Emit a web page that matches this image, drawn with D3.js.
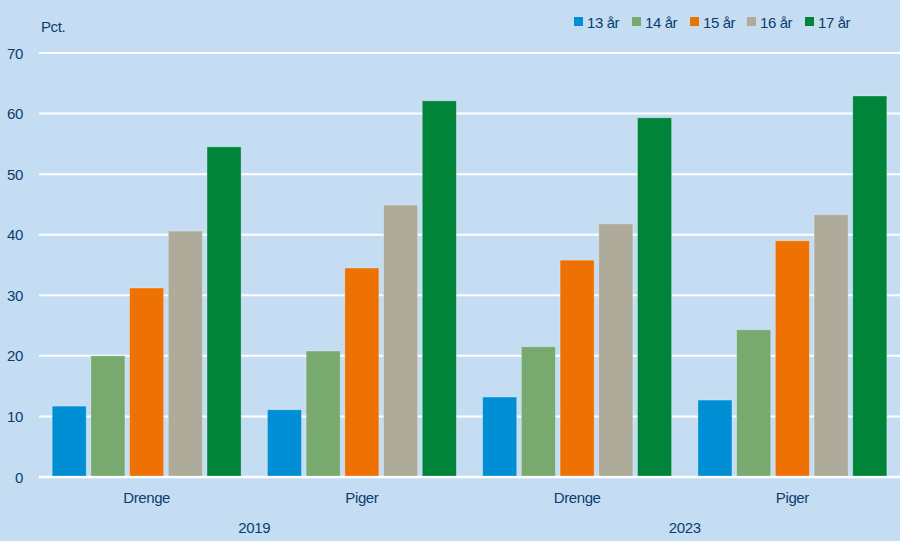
<!DOCTYPE html>
<html>
<head>
<meta charset="utf-8">
<script src="https://cdn.jsdelivr.net/npm/d3@7"></script>
<style>
  body { margin: 0; background: #c4ddf3; }
  svg text { font-family: "Liberation Sans", Arial, sans-serif; fill: #0a3d6e; letter-spacing: -0.4px; }
</style>
</head>
<body>
<svg id="chart" width="900" height="541"></svg>
<script>
// data
var years = ["2019", "2023"];
var genders = ["Drenge", "Piger"];
var ages = ["13 år", "14 år", "15 år", "16 år", "17 år"];
var colors = ["#008fd5", "#78aa6f", "#ee7203", "#aeab9b", "#00843a"];
var values = [
  [11.7, 20.0, 31.2, 40.6, 54.5],   // Drenge 2019
  [11.1, 20.8, 34.5, 44.9, 62.1],   // Piger 2019
  [13.2, 21.5, 35.8, 41.8, 59.3],   // Drenge 2023
  [12.7, 24.3, 39.0, 43.3, 62.9]    // Piger 2023
];
var yTicks = [0, 10, 20, 30, 40, 50, 60, 70];

var groups = [];
years.forEach(function(yr) {
  genders.forEach(function(g) { groups.push(g + "|" + yr); });
});

var svg = d3.select("#chart");
var plotLeft = 39, plotRight = 900, plotTop = 53, plotBottom = 477;
var fs = 15;

var x0 = d3.scaleBand().domain(groups).range([plotLeft, plotRight]).paddingInner(0).paddingOuter(0);
var x1 = d3.scaleBand().domain(ages).range([0, x0.bandwidth()]).paddingInner(0.12).paddingOuter(0.34);
var y = d3.scaleLinear().domain([0, 70]).range([plotBottom, plotTop]);

// gridlines
svg.append("g").selectAll("line")
  .data(yTicks)
  .enter().append("line")
    .attr("x1", plotLeft).attr("x2", plotRight)
    .attr("y1", d => y(d)).attr("y2", d => y(d))
    .attr("stroke", "#fff")
    .attr("stroke-width", d => d === 0 ? 2.5 : 2);

// y labels
svg.append("g").selectAll("text")
  .data(yTicks)
  .enter().append("text")
    .attr("x", 23).attr("y", d => y(d) + 5.5)
    .attr("text-anchor", "end")
    .attr("font-size", fs)
    .text(d => d);

svg.append("text").attr("x", 41).attr("y", 32).attr("font-size", fs).text("Pct.");

// bars
var g = svg.append("g").selectAll("g")
  .data(values)
  .enter().append("g")
    .attr("transform", (d, i) => "translate(" + x0(groups[i]) + ",0)");

g.selectAll("rect")
  .data(d => d)
  .enter().append("rect")
    .attr("x", (d, i) => x1(ages[i]))
    .attr("width", x1.bandwidth())
    .attr("y", d => y(d))
    .attr("height", d => y(0) - y(d) - 1)
    .attr("fill", (d, i) => colors[i])
    .attr("stroke", "rgba(255,255,255,0.35)")
    .attr("stroke-width", 0.8);

// category labels
svg.append("g").selectAll("text")
  .data(groups)
  .enter().append("text")
    .attr("x", d => x0(d) + x0.bandwidth() / 2)
    .attr("y", 503)
    .attr("text-anchor", "middle")
    .attr("font-size", fs)
    .text(d => d.split("|")[0]);

svg.append("g").selectAll("text")
  .data(years)
  .enter().append("text")
    .attr("x", (d, i) => x0(groups[i * 2]) + x0.bandwidth())
    .attr("y", 533)
    .attr("text-anchor", "middle")
    .attr("font-size", fs)
    .text(d => d);

// legend
var legX = [574, 632, 690, 747, 805];
var leg = svg.append("g").selectAll("g")
  .data(ages)
  .enter().append("g")
    .attr("transform", (d, i) => "translate(" + legX[i] + ",17)");
leg.append("rect").attr("width", 9).attr("height", 9).attr("fill", (d, i) => colors[i]);
leg.append("text").attr("x", 13).attr("y", 10.5).attr("font-size", fs).text(d => d);
</script>
</body>
</html>
